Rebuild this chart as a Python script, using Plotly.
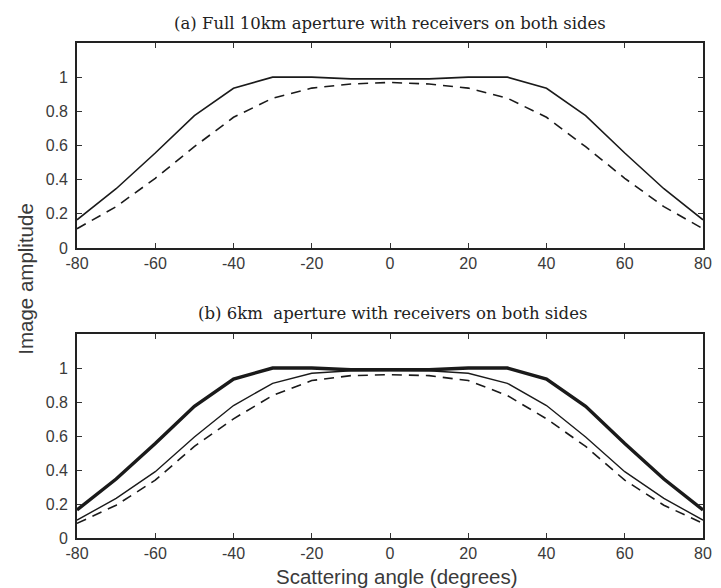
import plotly.graph_objects as go

angles = [-80, -70, -60, -50, -40, -30, -20, -10, 0, 10, 20, 30, 40, 50, 60, 70, 80]

# (a) full 10 km aperture
a_solid = [0.165, 0.347, 0.556, 0.775, 0.935, 1.0, 1.0, 0.99, 0.99, 0.99, 1.0, 1.0, 0.935, 0.775, 0.556, 0.347, 0.165]
a_dashed = [0.113, 0.242, 0.408, 0.593, 0.765, 0.877, 0.936, 0.96, 0.969, 0.96, 0.936, 0.877, 0.765, 0.593, 0.408, 0.242, 0.113]

# (b) 6 km aperture
b_thick = [0.165, 0.347, 0.556, 0.775, 0.935, 1.0, 1.0, 0.99, 0.99, 0.99, 1.0, 1.0, 0.935, 0.775, 0.556, 0.347, 0.165]
b_thin = [0.105, 0.233, 0.39, 0.594, 0.779, 0.91, 0.969, 0.984, 0.985, 0.984, 0.969, 0.91, 0.779, 0.594, 0.39, 0.233, 0.105]
b_dashed = [0.086, 0.193, 0.34, 0.539, 0.701, 0.838, 0.926, 0.955, 0.961, 0.955, 0.926, 0.838, 0.701, 0.539, 0.34, 0.193, 0.086]

x_ticks = [-80, -60, -40, -20, 0, 20, 40, 60, 80]
x_tick_text = ["-80", "-60", "-40", "-20", "0", "20", "40", "60", "80"]
y_ticks = [0, 0.2, 0.4, 0.6, 0.8, 1]
y_tick_text = ["0", "0.2", "0.4", "0.6", "0.8", "1"]

title_a = "(a) Full 10km aperture with receivers on both sides"
title_b = "(b) 6km&nbsp; aperture with receivers on both sides"
x_label = "Scattering angle (degrees)"
y_label = "Image amplitude"

LC = "#1a1a1a"
DASH = "10px,7px"
fig = go.Figure()
fig.add_trace(go.Scatter(x=angles, y=a_solid, mode="lines", line=dict(color=LC, width=1.6), xaxis="x", yaxis="y"))
fig.add_trace(go.Scatter(x=angles, y=a_dashed, mode="lines", line=dict(color=LC, width=1.6, dash=DASH), xaxis="x", yaxis="y"))
fig.add_trace(go.Scatter(x=angles, y=b_thick, mode="lines", line=dict(color=LC, width=3.4), xaxis="x2", yaxis="y2"))
fig.add_trace(go.Scatter(x=angles, y=b_thin, mode="lines", line=dict(color=LC, width=1.4), xaxis="x2", yaxis="y2"))
fig.add_trace(go.Scatter(x=angles, y=b_dashed, mode="lines", line=dict(color=LC, width=1.6, dash=DASH), xaxis="x2", yaxis="y2"))

tickfont = dict(family="Liberation Sans, Arial, sans-serif", size=16, color="#3a3a3a")
xcommon = dict(range=[-80, 80], tickvals=x_ticks, ticktext=x_tick_text, ticks="inside", ticklen=5, tickwidth=1,
               tickcolor="#333", showline=True, linecolor="#222", linewidth=1.6, mirror="ticks", showgrid=False,
               zeroline=False, tickfont=tickfont, ticklabelstandoff=0)
ycommon = dict(range=[0, 1.2], tickvals=y_ticks, ticktext=y_tick_text, ticks="inside", ticklen=5, tickwidth=1,
               tickcolor="#333", showline=True, linecolor="#222", linewidth=1.6, mirror="ticks", showgrid=False,
               zeroline=False, tickfont=tickfont, ticklabelstandoff=4)

H = 588
t, b = 43, 50
ph = H - t - b
fig.update_layout(
    width=721, height=588,
    margin=dict(l=77, r=9, t=t, b=b),
    paper_bgcolor="white", plot_bgcolor="white",
    showlegend=False,
    xaxis=dict(anchor="y", **xcommon),
    yaxis=dict(anchor="x", domain=[1 - 205 / ph, 1], **ycommon),
    xaxis2=dict(anchor="y2", **xcommon),
    yaxis2=dict(anchor="x2", domain=[0, 1 - 291 / ph], **ycommon),
)

serif = dict(family="DejaVu Serif, Liberation Serif, serif", size=16.5, color="#222")
sans = dict(family="Liberation Sans, Arial, sans-serif", size=20.5, color="#3a3a3a")
fig.add_annotation(text=title_a, xref="paper", yref="paper", x=(394.5 - 77) / 635, y=(H - 24 - b) / ph,
                   xanchor="center", yanchor="middle", showarrow=False, font=serif)
fig.add_annotation(text=title_b, xref="paper", yref="paper", x=(397 - 77) / 635, y=(H - 313 - b) / ph,
                   xanchor="center", yanchor="middle", showarrow=False, font=serif)
fig.add_annotation(text=x_label, xref="paper", yref="paper", x=(402 - 77) / 635, y=(H - 563 - b) / ph,
                   xanchor="center", yanchor="top", showarrow=False, font=sans)
fig.add_annotation(text=y_label, xref="paper", yref="paper", x=(24 - 77) / 635, y=(H - 279 - b) / ph,
                   xanchor="center", yanchor="middle", showarrow=False, textangle=-90, font=sans)

fig.write_html("out.html")
